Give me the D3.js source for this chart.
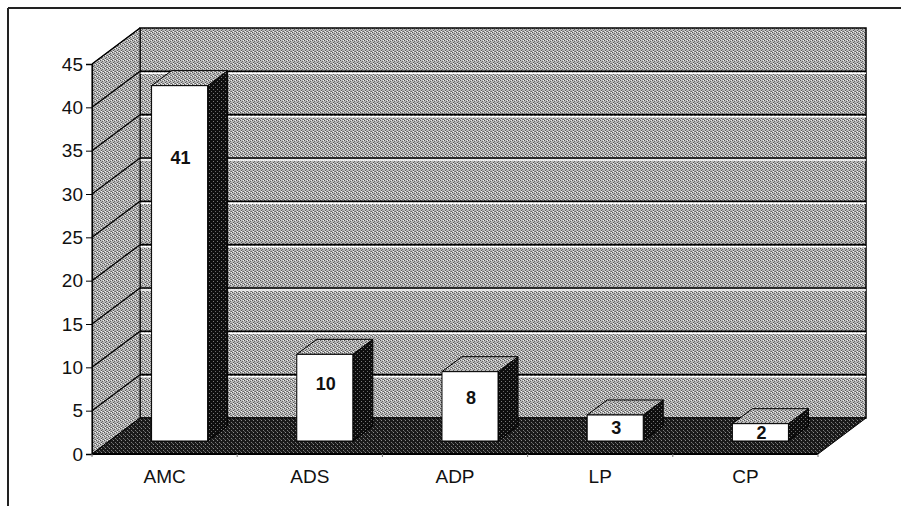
<!DOCTYPE html>
<html>
<head>
<meta charset="utf-8">
<script src="https://cdn.jsdelivr.net/npm/d3@7"></script>
<style>
  body { margin: 0; background: #fff; }
  text { font-family: "Liberation Sans", Arial, sans-serif; fill: #111; }
</style>
</head>
<body>
<div id="canvas"></div>
<script>
// chart data
var categories = ["AMC", "ADS", "ADP", "LP", "CP"];
var values = [41, 10, 8, 3, 2];
var yTicks = [0, 5, 10, 15, 20, 25, 30, 35, 40, 45];

var width = 901, height = 506;

// front plane of the 3d box
var x0 = 92, x1 = 818, y0 = 454, yTop = 64;
// depth of the box (floor / side wall)
var DX = 48, DY = -36;
// bar placement in depth
var barOff = {dx: 15, dy: -13}, barDepth = {dx: 20, dy: -15};

var svg = d3.select("#canvas")
    .append("svg")
    .attr("width", width)
    .attr("height", height);

var defs = svg.append("defs");

// stipple patterns, like the printed scan
function stipple(id, base, dots){
  var p = defs.append("pattern")
      .attr("id", id)
      .attr("width", 4).attr("height", 4)
      .attr("patternUnits", "userSpaceOnUse");
  p.append("rect").attr("width", 4).attr("height", 4).attr("fill", base);
  dots.forEach(function(d){
    p.append("rect").attr("x", d[0]).attr("y", d[1])
      .attr("width", 1).attr("height", 1).attr("fill", d[2]);
  });
}
stipple("wall", "#b8b8b8", [[0,0,"#555"],[2,1,"#666"],[1,2,"#5a5a5a"],[3,3,"#666"],[3,0,"#eee"],[1,3,"#f4f4f4"],[2,3,"#888"]]);
stipple("floor", "#191919", [[1,0,"#8a8a8a"],[3,2,"#7a7a7a"],[0,3,"#555"]]);
stipple("side", "#0e0e0e", [[1,1,"#7a7a7a"],[3,3,"#666"]]);

var x = d3.scaleBand()
    .domain(categories)
    .range([x0, x1]);

var y = d3.scaleLinear()
    .domain([0, 45])
    .range([y0, yTop]);

var bw = x.bandwidth();
var barW = bw * 0.386;

function pts(a){ return a.map(function(p){ return p.join(","); }).join(" "); }

// back wall
svg.append("rect")
    .attr("x", x0 + DX).attr("y", yTop + DY)
    .attr("width", x1 - x0).attr("height", y0 - yTop)
    .attr("fill", "url(#wall)")
    .attr("stroke", "#000").attr("stroke-width", 1.5);

// back wall gridlines
var grid = yTicks.filter(function(v){ return v > 0 && v < 45; });
svg.append("g").selectAll("line.g1")
    .data(grid).enter().append("line")
    .attr("x1", x0 + DX).attr("x2", x1 + DX)
    .attr("y1", function(d){ return y(d) + DY; })
    .attr("y2", function(d){ return y(d) + DY; })
    .attr("stroke", "#000").attr("stroke-width", 1.6);
svg.append("g").selectAll("line.g2")
    .data(grid).enter().append("line")
    .attr("x1", x0 + DX).attr("x2", x1 + DX)
    .attr("y1", function(d){ return y(d) + DY + 2; })
    .attr("y2", function(d){ return y(d) + DY + 2; })
    .attr("stroke", "#fff").attr("stroke-width", 1.5);

// side wall
svg.append("polygon")
    .attr("points", pts([[x0, y0], [x0, yTop], [x0 + DX, yTop + DY], [x0 + DX, y0 + DY]]))
    .attr("fill", "url(#wall)")
    .attr("stroke", "#000").attr("stroke-width", 1);

svg.append("g").selectAll("line")
    .data(yTicks.filter(function(v){ return v > 0; }))
    .enter().append("line")
    .attr("x1", x0).attr("x2", x0 + DX)
    .attr("y1", function(d){ return y(d); })
    .attr("y2", function(d){ return y(d) + DY; })
    .attr("stroke", "#000").attr("stroke-width", 1.3);

// floor
svg.append("polygon")
    .attr("points", pts([[x0, y0], [x0 + DX, y0 + DY], [x1 + DX, y0 + DY], [x1, y0]]))
    .attr("fill", "url(#floor)")
    .attr("stroke", "#000").attr("stroke-width", 1);

// bars
var bars = svg.append("g").selectAll("g")
    .data(values).enter().append("g");

function bx(d, i){ return x(categories[i]) + (bw - barW) / 2 + barOff.dx; }
function btop(d){ return y(d) + barOff.dy; }
var bbot = y(0) + barOff.dy;

bars.append("polygon")
    .attr("points", function(d, i){
      var l = bx(d, i) + barW, t = btop(d);
      return pts([[l, t], [l + barDepth.dx, t + barDepth.dy], [l + barDepth.dx, bbot + barDepth.dy], [l, bbot]]);
    })
    .attr("fill", "url(#side)")
    .attr("stroke", "#000").attr("stroke-width", 1);

bars.append("polygon")
    .attr("points", function(d, i){
      var l = bx(d, i), t = btop(d);
      return pts([[l, t], [l + barW, t], [l + barW + barDepth.dx, t + barDepth.dy], [l + barDepth.dx, t + barDepth.dy]]);
    })
    .attr("fill", "url(#wall)")
    .attr("stroke", "#000").attr("stroke-width", 1);

bars.append("rect")
    .attr("x", bx)
    .attr("y", btop)
    .attr("width", barW)
    .attr("height", function(d){ return bbot - btop(d); })
    .attr("fill", "#fff")
    .attr("stroke", "#000").attr("stroke-width", 1);

// value labels inside the bars
bars.append("text")
    .attr("x", function(d, i){ return bx(d, i) + barW / 2 + 1; })
    .attr("y", function(d){
      var h = bbot - btop(d);
      return btop(d) + Math.min(h / 2, 15 + 0.16 * h);
    })
    .attr("dy", "0.36em")
    .attr("text-anchor", "middle")
    .attr("font-size", 18)
    .attr("font-weight", "bold")
    .text(function(d){ return d; });

// y axis
var yAxis = d3.axisLeft(y).tickValues(yTicks).tickSize(6).tickPadding(3);
var ya = svg.append("g")
    .attr("transform", "translate(" + x0 + ",0)")
    .call(yAxis);
ya.select(".domain").attr("stroke", "#000").attr("stroke-width", 1.3);
ya.selectAll(".tick line").attr("stroke", "#000");
ya.selectAll(".tick text")
    .attr("font-size", 19)
    .attr("font-family", "Liberation Sans, Arial, sans-serif")
    .attr("fill", "#111");

// front floor edge + category ticks
svg.append("line")
    .attr("x1", x0).attr("x2", x1).attr("y1", y0).attr("y2", y0)
    .attr("stroke", "#000").attr("stroke-width", 2);
svg.append("g").selectAll("line")
    .data(categories.concat(["end"])).enter().append("line")
    .attr("x1", function(d, i){ return x0 + i * bw; })
    .attr("x2", function(d, i){ return x0 + i * bw; })
    .attr("y1", y0).attr("y2", y0 + 3)
    .attr("stroke", "#777");

// category labels
svg.append("g").selectAll("text")
    .data(categories).enter().append("text")
    .attr("x", function(d){ return x(d) + bw / 2; })
    .attr("y", 483)
    .attr("text-anchor", "middle")
    .attr("font-size", 19)
    .text(function(d){ return d; });

// outer frame (top and left edges of the scanned box)
svg.append("line")
    .attr("x1", 8).attr("x2", width).attr("y1", 8).attr("y2", 8)
    .attr("stroke", "#222").attr("stroke-width", 2);
svg.append("line")
    .attr("x1", 8).attr("x2", 8).attr("y1", 8).attr("y2", height)
    .attr("stroke", "#222").attr("stroke-width", 2);
</script>
</body>
</html>
